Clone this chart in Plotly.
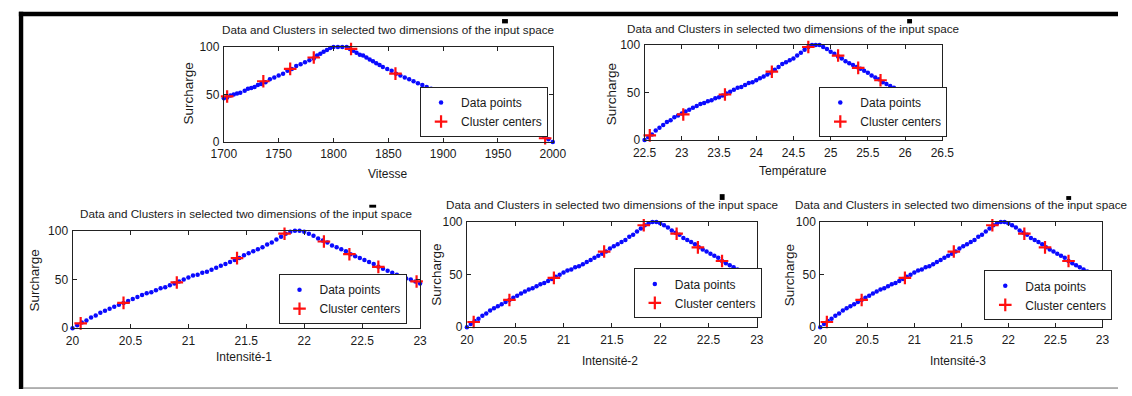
import plotly.graph_objects as go

W, H = 1132, 396

TITLE = "Data and Clusters in selected two dimensions of the input space"

# ---- Vitesse vs Surcharge ----
vitesse = [1700, 1703, 1706, 1709, 1712, 1715, 1719, 1722, 1725, 1728, 1731, 1734,
           1738, 1742, 1746, 1750, 1754, 1758, 1762, 1766, 1770, 1774, 1778, 1782,
           1785, 1788, 1791, 1794, 1797, 1800, 1804, 1808, 1812, 1815, 1818, 1821,
           1824, 1827, 1830, 1833, 1836, 1839, 1842, 1845, 1849, 1853, 1857, 1861,
           1865, 1869, 1873, 1877, 1881, 1885, 1889, 1893, 1897, 1905, 1915, 1925,
           1935, 1945, 1955, 1965, 1975, 1985, 1992, 1996, 2000]
surcharge_v = [46, 47, 49, 50, 51, 52, 54, 56, 57, 58, 60, 61,
               63, 66, 68, 70, 72, 75, 77, 80, 82, 84, 86, 88,
               91, 93, 95, 97, 99, 100, 100, 100, 100, 98, 96, 94,
               92, 91, 89, 87, 85, 83, 81, 79, 77, 75, 72, 70,
               68, 66, 64, 62, 60, 58, 56, 54, 52, 49, 45, 40,
               35, 30, 25, 20, 15, 10, 6, 3, 0]
vitesse_c = [1703, 1736, 1760.5, 1782, 1816, 1856.5, 1993]
surcharge_v_c = [48, 64, 77, 89, 98, 72, 4]

# ---- Température vs Surcharge ----
temperature = [22.50, 22.55, 22.60, 22.65, 22.70, 22.75, 22.80, 22.85, 22.90, 22.95,
               23.00, 23.05, 23.10, 23.15, 23.20, 23.25, 23.30, 23.35, 23.40, 23.45,
               23.50, 23.55, 23.60, 23.65, 23.70, 23.75, 23.80, 23.85, 23.90, 23.95,
               24.00, 24.05, 24.10, 24.15, 24.20, 24.25, 24.30, 24.35, 24.40, 24.45,
               24.50, 24.55, 24.60, 24.65, 24.70, 24.75, 24.80, 24.85, 24.90, 24.95,
               25.00, 25.05, 25.10, 25.15, 25.20, 25.25, 25.30, 25.35, 25.40, 25.45,
               25.50, 25.55, 25.60, 25.65, 25.70, 25.75, 25.80, 25.85, 25.90, 25.95,
               26.00, 26.05, 26.10]
surcharge_t = [0, 3, 6, 10, 13, 16, 19, 21, 24, 26,
               28, 30, 32, 34, 36, 38, 39, 41, 42, 44,
               45, 47, 49, 51, 53, 55, 56, 58, 60, 61,
               63, 65, 67, 69, 71, 74, 77, 80, 82, 84,
               86, 89, 92, 95, 98, 100, 100, 100, 98, 96,
               93, 91, 88, 86, 83, 81, 79, 77, 75, 73,
               71, 68, 66, 64, 61, 59, 57, 55, 53, 51,
               49, 47, 45]
temperature_c = [22.57, 23.02, 23.58, 24.21, 24.70, 25.10, 25.37, 25.67]
surcharge_t_c = [5, 27, 48, 72, 98, 89, 76, 63]

# ---- Intensité-1/2/3 vs Surcharge ----
intensite = [20.00, 20.04, 20.08, 20.12, 20.16, 20.20, 20.24, 20.28, 20.32, 20.36,
             20.40, 20.44, 20.48, 20.52, 20.56, 20.60, 20.64, 20.68, 20.72, 20.76,
             20.80, 20.84, 20.88, 20.92, 20.96, 21.00, 21.04, 21.08, 21.12, 21.16,
             21.20, 21.24, 21.28, 21.32, 21.36, 21.40, 21.44, 21.48, 21.52, 21.56,
             21.60, 21.64, 21.68, 21.72, 21.76, 21.80, 21.84, 21.88, 21.92, 21.96,
             22.00, 22.04, 22.08, 22.12, 22.16, 22.20, 22.24, 22.28, 22.32, 22.36,
             22.40, 22.44, 22.48, 22.52, 22.56, 22.60, 22.64, 22.68, 22.72, 22.76,
             22.80, 22.84, 22.88, 22.92, 22.96, 23.00]
surcharge_i = [0, 3, 6, 8, 11, 13, 16, 18, 20, 22,
               24, 26, 28, 30, 32, 34, 36, 37, 39, 41,
               42, 44, 46, 48, 50, 52, 54, 55, 57, 58,
               60, 62, 64, 66, 68, 70, 72, 75, 77, 79,
               81, 83, 86, 88, 91, 94, 97, 99, 100, 100,
               99, 97, 95, 92, 90, 88, 85, 83, 81, 79,
               76, 74, 72, 70, 68, 66, 63, 61, 59, 57,
               55, 53, 51, 50, 48, 46]
intensite_c = [20.07, 20.44, 20.90, 21.42, 21.83, 22.17, 22.39, 22.64, 22.97]
surcharge_i_c = [5, 26, 47, 72, 97, 89, 76, 63, 48]

FONT = "Liberation Sans, Arial, sans-serif"
TXT = "#1a1a1a"

# Panel layout in pixels: plot box (x0, y0, x1, y1), legend top-left,
# title centre y, axis-label positions, small mark above the title
panels = [
    dict(x=vitesse, y=surcharge_v, cx=vitesse_c, cy=surcharge_v_c,
         xlabel="Vitesse", xrange=[1700, 2000],
         xticks=[1700, 1750, 1800, 1850, 1900, 1950, 2000],
         box=(216, 41.5, 553, 140), leg=(417, 83), title_y=23,
         xlab=(384, 173), ylab=(180, 90), mark=(501, 12.5, 507, 17)),
    dict(x=temperature, y=surcharge_t, cx=temperature_c, cy=surcharge_t_c,
         xlabel="Température", xrange=[22.5, 26.5],
         xticks=[22.5, 23, 23.5, 24, 24.5, 25, 25.5, 26, 26.5],
         box=(647, 39.5, 952, 138), leg=(826, 83), title_y=22,
         xlab=(799, 170), ylab=(613, 90), mark=(916, 12.5, 921, 17)),
    dict(x=intensite, y=surcharge_i, cx=intensite_c, cy=surcharge_i_c,
         xlabel="Intensité-1", xrange=[20, 23],
         xticks=[20, 20.5, 21, 21.5, 22, 22.5, 23],
         box=(61, 232, 417, 333), leg=(272, 277), title_y=214,
         xlab=(237, 363), ylab=(23, 283), mark=(365, 205, 372, 208)),
    dict(x=intensite, y=surcharge_i, cx=intensite_c, cy=surcharge_i_c,
         xlabel="Intensité-2", xrange=[20, 23],
         xticks=[20, 20.5, 21, 21.5, 22, 22.5, 23],
         box=(465, 223, 762, 332), leg=(636, 271), title_y=205,
         xlab=(612, 367), ylab=(433, 278), mark=(724, 194, 729, 200)),
    dict(x=intensite, y=surcharge_i, cx=intensite_c, cy=surcharge_i_c,
         xlabel="Intensité-3", xrange=[20, 23],
         xticks=[20, 20.5, 21, 21.5, 22, 22.5, 23],
         box=(827, 223, 1116, 332), leg=(995, 273), title_y=205,
         xlab=(968, 367), ylab=(795, 278), mark=(1079, 196, 1084, 200)),
]


def px(x):
    return x / W


def py(y):
    return 1 - y / H


fig = go.Figure()
annotations = []
shapes = []

for i, p in enumerate(panels, start=1):
    sfx = "" if i == 1 else str(i)
    xa, ya = "x" + sfx, "y" + sfx
    leg = "legend" + sfx
    x0, y0, x1, y1 = p["box"]

    fig.add_trace(go.Scatter(
        x=p["x"], y=p["y"], mode="markers", name="Data points",
        xaxis=xa, yaxis=ya, legend=leg, cliponaxis=False,
        marker=dict(color="#0a0aff", size=4.5, symbol="circle"),
    ))
    fig.add_trace(go.Scatter(
        x=p["cx"], y=p["cy"], mode="markers", name="Cluster centers",
        xaxis=xa, yaxis=ya, legend=leg, cliponaxis=False,
        marker=dict(symbol="cross-thin", size=9,
                    line=dict(color="#ff1010", width=2.2)),
    ))

    axis_common = dict(
        showgrid=False, zeroline=False, showline=True, linecolor="#222",
        linewidth=1, mirror="ticks", ticks="inside", ticklen=4,
        tickcolor="#222", tickfont=dict(family=FONT, size=12, color=TXT),
    )
    fig.update_layout(**{
        "xaxis" + sfx: dict(domain=[px(x0), px(x1)], range=p["xrange"],
                            tickvals=p["xticks"], anchor=ya,
                            ticklabelstandoff=1, **axis_common),
        "yaxis" + sfx: dict(domain=[py(y1), py(y0)], range=[0, 100],
                            tickvals=[0, 50, 100], anchor=xa,
                            ticklabelstandoff=1, **axis_common),
        leg: dict(x=px(p["leg"][0]), y=py(p["leg"][1]),
                  xanchor="left", yanchor="top", bgcolor="white",
                  bordercolor="#222", borderwidth=1,
                  font=dict(family=FONT, size=12, color=TXT)),
    })

    annotations.append(dict(
        text=TITLE, x=px((x0 + x1) / 2), y=py(p["title_y"]), xref="paper",
        yref="paper", showarrow=False, xanchor="center", yanchor="middle",
        font=dict(family=FONT, size=11.7, color=TXT)))
    annotations.append(dict(
        text=p["xlabel"], x=px(p["xlab"][0]), y=py(p["xlab"][1]),
        xref="paper", yref="paper", showarrow=False, xanchor="center",
        yanchor="middle", font=dict(family=FONT, size=12, color=TXT)))
    annotations.append(dict(
        text="Surcharge", x=px(p["ylab"][0]), y=py(p["ylab"][1]),
        xref="paper", yref="paper", showarrow=False, textangle=-90,
        xanchor="center", yanchor="middle",
        font=dict(family=FONT, size=13.5, color=TXT)))
    mx0, my0, mx1, my1 = p["mark"]
    shapes.append(dict(type="rect", xref="paper", yref="paper",
                       x0=px(mx0), x1=px(mx1), y0=py(my1), y1=py(my0),
                       fillcolor="black", line=dict(width=0)))

# outer frame: heavy top and left rules, thin bottom rule
shapes += [
    dict(type="rect", xref="paper", yref="paper", x0=px(6), x1=1,
         y0=py(9.5), y1=py(5), fillcolor="black", line=dict(width=0)),
    dict(type="rect", xref="paper", yref="paper", x0=px(6), x1=px(10.5),
         y0=0, y1=py(5), fillcolor="black", line=dict(width=0)),
    dict(type="line", xref="paper", yref="paper", x0=px(10), x1=1,
         y0=py(395), y1=py(395), line=dict(color="#666", width=1)),
]

fig.update_layout(
    width=W, height=H, margin=dict(l=0, r=0, t=0, b=0),
    paper_bgcolor="white", plot_bgcolor="white",
    showlegend=True, annotations=annotations, shapes=shapes,
    font=dict(family=FONT, color=TXT),
)

fig.write_html("out.html")
